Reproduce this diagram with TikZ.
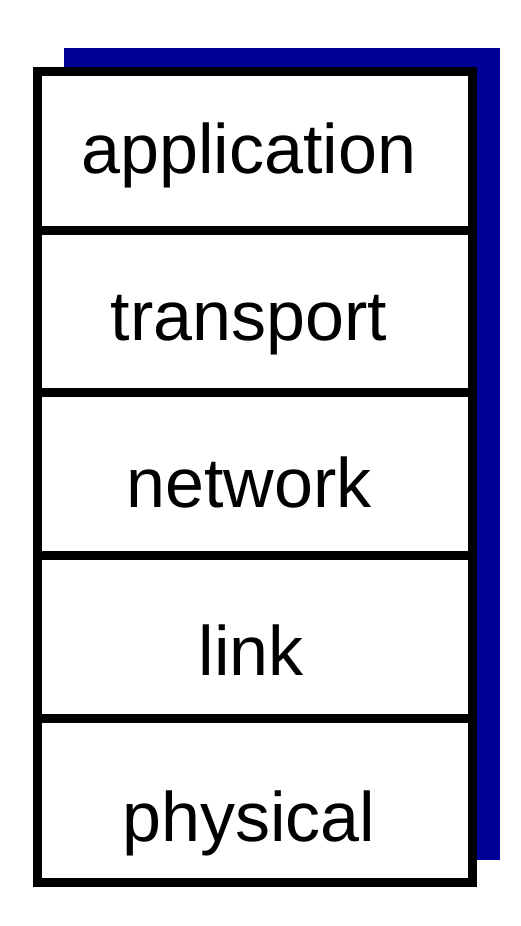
\documentclass[tikz,border=0pt]{standalone}
\usepackage{fontspec}
\setmainfont{Liberation Sans}
\definecolor{shadowblue}{RGB}{0,0,153}
\begin{document}
\begin{tikzpicture}[x=0.5pt,y=-0.5pt,
  layer/.style={anchor=base,inner sep=0pt,font=\fontsize{35pt}{42pt}\selectfont},
  frame/.style={draw=black,line width=4.5pt,fill=white}]
\useasboundingbox (0,0) rectangle (520,926);
\fill[shadowblue] (64,48) rectangle (500,860);
\draw[frame] (37.5,71.5) rectangle (472.5,882.5);
\coordinate (d1l) at (37.5,230.5); \coordinate (d1r) at (472.5,230.5);
\coordinate (d2l) at (37.5,392.5); \coordinate (d2r) at (472.5,392.5);
\coordinate (d3l) at (37.5,555.5); \coordinate (d3r) at (472.5,555.5);
\coordinate (d4l) at (37.5,718.5); \coordinate (d4r) at (472.5,718.5);
\draw[line width=4.5pt] (d1l) -- (d1r) (d2l) -- (d2r) (d3l) -- (d3r) (d4l) -- (d4r);
\node[layer] (app) at (249,173) {application};
\node[layer] (tra) at (249,340) {transport};
\node[layer] (net) at (249,507) {network};
\node[layer] (lnk) at (251,675) {link};
\node[layer] (phy) at (249,841) {physical};
\end{tikzpicture}
\end{document}
